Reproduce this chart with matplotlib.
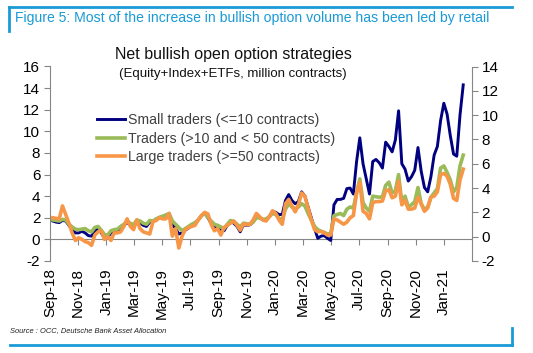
import numpy as np
import pandas as pd
import matplotlib
matplotlib.use("Agg")
from matplotlib import pyplot as plt
import matplotlib.dates as mdates
from matplotlib.lines import Line2D

plt.rcParams['font.family'] = ['Liberation Sans', 'DejaVu Sans']
plt.rcParams['axes.unicode_minus'] = False

# weekly readings, Sep 2018 - Feb 2021 (million contracts)
dates = pd.date_range('2018-09-07', periods=128, freq='7D')

small = [1.7, 1.6, 1.55, 1.75, 1.7, 1.3, 0.9, 0.6, 0.6, 0.75,
         0.6, 0.35, 0.3, 0.8, 1.0, 0.6, 0.15, 0.2, 0.6, 0.7,
         0.8, 1.0, 1.3, 1.55, 1.35, 1.2, 1.7, 1.55, 1.3, 1.2,
         1.6, 1.65, 1.85, 2.0, 2.1, 2.25, 2.3, 1.4, 1.0, 0.5,
         0.6, 0.85, 1.05, 1.3, 1.5, 1.8, 2.2, 2.45, 2.0, 1.5,
         1.1, 1.0, 0.85, 0.8, 1.3, 1.65, 1.5, 1.2, 0.7, 1.35,
         1.3, 1.35, 1.6, 2.1, 2.0, 1.8, 1.8, 2.1, 2.6, 2.5,
         2.3, 2.3, 3.6, 4.15, 3.6, 3.3, 3.5, 4.4, 4.0, 3.0,
         2.0, 1.0, 0.1, 0.3, 0.35, 0.1, -0.1, 3.2, 3.7, 3.7,
         3.8, 4.7, 4.75, 4.2, 7.2, 9.4, 7.0, 5.6, 4.2, 7.2,
         7.4, 7.1, 6.6, 9.0, 8.6, 8.1, 9.2, 11.9, 7.0, 6.5,
         5.4, 5.8, 6.4, 8.5, 6.3, 4.8, 4.4, 5.8, 7.8, 8.6,
         11.0, 12.6, 11.6, 9.6, 7.9, 7.7, 11.5, 14.3]

mid = [1.8, 1.75, 1.7, 1.85, 1.8, 1.4, 1.15, 0.95, 0.9, 0.95,
       1.0, 0.8, 0.7, 1.1, 1.2, 0.85, 0.45, 0.4, 0.8, 0.9,
       0.95, 1.2, 1.4, 1.65, 1.5, 1.35, 1.8, 1.7, 1.5, 1.4,
       1.75, 1.7, 1.9, 2.05, 2.15, 2.25, 2.4, 1.7, 1.4, 1.1,
       0.8, 1.0, 1.2, 1.4, 1.55, 1.8, 2.2, 2.4, 2.05, 1.7,
       1.4, 1.3, 1.15, 1.0, 1.4, 1.75, 1.65, 1.4, 1.15, 1.5,
       1.45, 1.4, 1.6, 2.0, 2.0, 1.85, 1.9, 2.1, 2.4, 2.3,
       1.95, 1.8, 2.8, 3.3, 3.0, 2.85, 3.0, 3.3, 3.1, 2.4,
       1.8, 1.2, 0.9, 0.75, 0.65, 0.5, 0.55, 2.2, 2.3, 2.4,
       2.2, 2.8, 3.0, 2.9, 4.3, 5.6, 3.4, 2.9, 2.6, 4.0,
       3.95, 3.9, 3.95, 5.0, 5.3, 4.3, 4.5, 6.0, 3.4, 4.0,
       3.0, 3.2, 3.5, 4.8, 3.3, 2.75, 3.0, 3.9, 4.3, 4.7,
       6.6, 6.8, 6.2, 5.5, 4.4, 4.8, 6.8, 7.8]

large = [2.0, 1.95, 1.9, 3.1, 2.3, 1.5, 0.6, -0.1, 0.15, 0.0,
         -0.2, -0.3, -0.55, 0.4, 0.7, 0.8, 0.0, 0.25, -0.1, 0.6,
         0.6, 0.7, 1.2, 1.9, 1.2, 0.9, 1.8, 1.0, 0.7, 0.6,
         0.5, 1.65, 1.75, 2.0, 1.9, 1.9, 2.4, 0.3, 1.0, -0.8,
         0.3, 0.9, 1.1, 1.2, 1.3, 1.8, 2.2, 2.5, 2.35, 1.4,
         0.8, 1.0, 0.4, 1.1, 1.3, 1.5, 1.7, 1.3, 0.85, 1.45,
         1.35, 1.4, 1.8, 2.4, 2.1, 1.8, 1.7, 2.1, 2.65, 2.4,
         1.8, 1.4, 3.3, 3.7, 3.1, 2.55, 3.2, 4.3, 4.0, 2.9,
         1.8, 0.9, 0.7, 0.75, 0.6, 0.4, 0.4, 1.9, 1.8, 1.6,
         1.4, 1.6, 2.0, 2.2, 4.3, 5.3, 2.6, 2.4, 1.9, 3.4,
         3.5, 3.5, 3.55, 4.5, 4.6, 3.85, 4.0, 5.4, 3.2, 3.6,
         2.8, 2.8, 2.9, 3.9, 3.3, 2.6, 2.9, 3.9, 4.0, 4.4,
         6.0, 6.1, 5.85, 5.1, 3.8, 3.6, 5.5, 6.5]

labels = ['Small traders (<=10 contracts)',
          'Traders (>10 and < 50 contracts)',
          'Large traders (>=50 contracts)']
colors = ['#000080', '#9bbb59', '#f79646']
blue = '#1a9ad6'
grey = '#868686'

fig = plt.figure(figsize=(5.33, 3.53), dpi=100)

# frame decorations
fig.add_artist(Line2D([9/533, 512/533], [1-7/353, 1-7/353], color=blue, lw=2))
fig.add_artist(Line2D([9/533, 9/533], [1-7/353, 1-31/353], color=blue, lw=2))
fig.add_artist(Line2D([10/533, 512/533], [1-345/353, 1-345/353], color=blue, lw=2))
fig.add_artist(Line2D([512/533, 512/533], [1-345/353, 1-328/353], color=blue, lw=2))
fig.text(15/533, 1-18/353, 'Figure 5: Most of the increase in bullish option volume has been led by retail',
         color=blue, fontsize=10.1, va='center', ha='left')
fig.text(10/533, 1-331/353, 'Source : OCC, Deutsche Bank Asset Allocation',
         fontsize=5.4, style='italic', color='#222222', va='center')
fig.text(233/533, 1-54/353, 'Net bullish open option strategies', fontsize=11.5,
         ha='center', va='center', color='#111111')
fig.text(233/533, 1-74/353, '(Equity+Index+ETFs, million contracts)', fontsize=9.5,
         ha='center', va='center', color='#111111')

ax = fig.add_axes([50/533, 1-261/353, 422/533, 194.5/353])
for s, c, lab, lw in zip([small, mid, large], colors, labels, [2.1, 2.6, 2.6]):
    ax.plot(dates, s, color=c, lw=lw, label=lab, solid_joinstyle='round')

ax.set_ylim(-2, 16)
ax.set_yticks(np.arange(-2, 17, 2))
ax.set_xlim(pd.Timestamp('2018-09-01'), pd.Timestamp('2021-03-03'))
ticks = pd.date_range('2018-09-01', '2021-01-01', freq='2MS')
ax.set_xticks(ticks)
ax.xaxis.set_major_formatter(mdates.DateFormatter('%b-%y'))
ax.tick_params(axis='x', length=0, labelsize=11, rotation=90, pad=5)
ax.tick_params(axis='y', length=4, color=grey, labelsize=11, pad=3)
for sp in ['top', 'right', 'bottom']:
    ax.spines[sp].set_visible(False)
ax.spines['left'].set_color(grey)

# zero line with tick marks
sec = ax.secondary_xaxis(2/18)
sec.set_xticks(ticks)
sec.tick_params(axis='x', length=4, color=grey, labelbottom=False)
sec.spines['bottom'].set_color(grey)

ax2 = ax.twinx()
ax2.set_ylim(-2, 14)
ax2.set_yticks(np.arange(-2, 15, 2))
ax2.tick_params(axis='y', length=4, color=grey, labelsize=11, pad=3)
for sp in ['top', 'left', 'bottom']:
    ax2.spines[sp].set_visible(False)
ax2.spines['right'].set_color(grey)

leg = ax.legend(loc='upper left', bbox_to_anchor=(0.097, 0.79), frameon=False,
                fontsize=10.2, handlelength=2.0, handletextpad=0.2, labelspacing=0.33,
                borderaxespad=0)
for t in leg.get_texts():
    t.set_color('#404040')

fig.savefig('out.png', dpi=100)
